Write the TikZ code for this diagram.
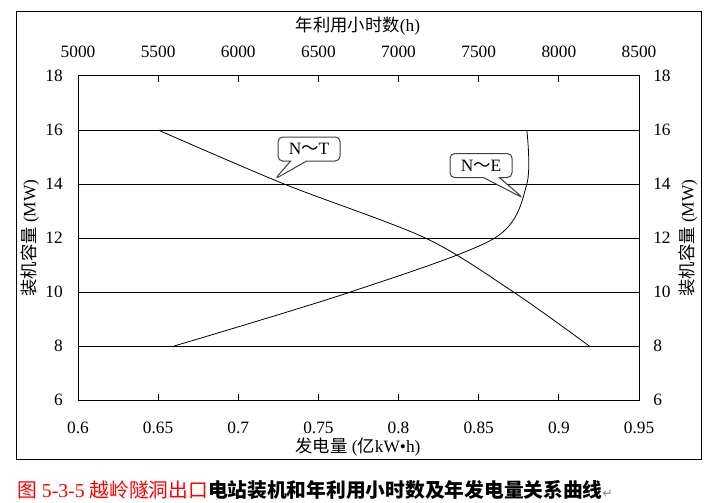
\documentclass[tikz,border=0pt]{standalone}
\usepackage{fontspec}
\setmainfont{Liberation Serif}
\newfontfamily\cjk{Noto Sans CJK SC}
\newfontfamily\symfont{DejaVu Sans}
\usetikzlibrary{shapes.callouts, positioning}
\tikzstyle{frame} = [draw, line width=0.75pt]
\tikzstyle{gridline} = [draw, line width=0.75pt]
\tikzstyle{tickmark} = [draw, line width=0.75pt]
\tikzstyle{curve} = [draw, line width=0.6pt, smooth, tension=0.5]
\tikzstyle{ticklabel} = [inner sep=0pt, font=\fontsize{13}{15}\selectfont]
\tikzstyle{axtitle} = [inner sep=0pt, font=\fontsize{13}{15}\selectfont]
\tikzstyle{callbox} = [rectangle callout, draw=black!75, line width=0.75pt, rounded corners=3.5pt, fill=white, minimum width=46.5pt, minimum height=18pt, inner sep=0pt, callout pointer width=12pt, font=\fontsize{13}{15}\selectfont]

\begin{document}
\begin{tikzpicture}[x=0.75pt, y=-0.75pt]
	\useasboundingbox (0,0) rectangle (707,503);

	% Frames
	\draw[frame] (16,12) rectangle (701,459);
	\coordinate (plotNW) at (78,76);
	\coordinate (plotSE) at (639,400);
	\draw[frame] (plotNW) rectangle (plotSE);

	% Grid lines
	\foreach \n in {8,10,...,16}
		\draw[gridline] (78,{400-(\n-6)*27}) -- (639,{400-(\n-6)*27});

	% Ticks
	\foreach \i in {1,...,6} {
		\draw[tickmark] ({78+\i*80.143},76) -- ++(0,6);
		\draw[tickmark] ({78+\i*80.143},400) -- ++(0,-6);
	}

	% Top axis - hours
	\foreach \t [count=\i from 0] in {5000,5500,6000,6500,7000,7500,8000,8500}
		\node[ticklabel] (top\i) at ({78+\i*80.143},52) {\t};
	\node[axtitle] (toptitle) at (358,26) {{\cjk 年利用小时数}(h)};

	% Bottom axis - energy
	\foreach \e [count=\i from 0] in {0.6,0.65,0.7,0.75,0.8,0.85,0.9,0.95}
		\node[ticklabel] (bot\i) at ({78+\i*80.143},428) {\e};
	\node[axtitle] (bottitle) at (358,447) {{\cjk 发电量} ({\cjk 亿}kW•h)};

	% Left and right axes - capacity
	\foreach \n in {6,8,...,18} {
		\node[ticklabel, anchor=east] (left\n) at (63,{400-(\n-6)*27}) {\n};
		\node[ticklabel, anchor=west] (right\n) at (653,{400-(\n-6)*27}) {\n};
	}
	\node[axtitle, rotate=90] (lefttitle) at (30,238) {{\cjk 装机容量} (MW)};
	\node[axtitle, rotate=90] (righttitle) at (688,238) {{\cjk 装机容量} (MW)};

	% N~E curve (bottom axis)
	\begin{scope}[shift={(-883.71,562)}, x=1202.14pt, y=20.25pt]
		\draw[curve] plot coordinates {(0.66,8) (0.77,10) (0.86,12) (0.88,14) (0.88,16)};
	\end{scope}

	% N~T curve (top axis)
	\begin{scope}[shift={(-723.43,562)}, x=0.120214pt, y=20.25pt]
		\draw[curve] plot coordinates {(5500,16) (6286,14) (7167,12) (7717,10) (8190,8)};
	\end{scope}

	% Callouts
	\coordinate (ntTip) at (275,179);
	\coordinate (neTip) at (523,198);
	\node[callbox, callout absolute pointer={(ntTip)}] (ntBox) at (309,149) {N{\cjk ～}T};
	\node[callbox, callout absolute pointer={(neTip)}] (neBox) at (481,165.5) {N{\cjk ～}E};

	% Caption
	\node[anchor=west, inner sep=0pt, font=\fontsize{14.8}{17}\selectfont] (caption) at (17,490)
		{\textcolor{red}{{\cjk 图} 5-3-5 {\cjk 越岭隧洞出口}}{\cjk\bfseries 电站装机和年利用小时数及年发电量关系曲线}{\symfont\color{gray}\fontsize{9}{10}\selectfont ↵}};

\end{tikzpicture}
\end{document}
